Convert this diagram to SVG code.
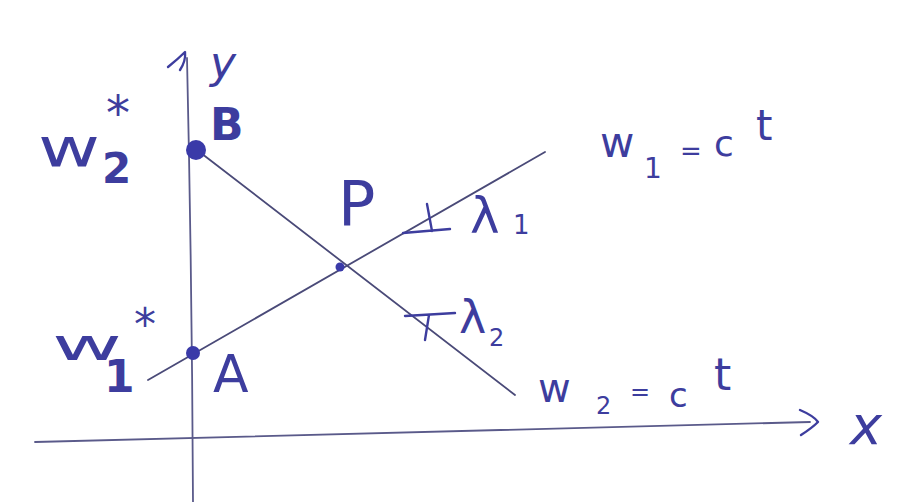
<svg xmlns="http://www.w3.org/2000/svg" width="908" height="502" viewBox="0 0 908 502">
<style>
.ink{font-family:"DejaVu Sans","Liberation Sans",sans-serif;fill:#3d3d9e}
.it{font-style:italic}
.ln{fill:none;stroke:#4a4a78;stroke-width:1.8;stroke-linecap:round}
.ax{fill:none;stroke:#5a5a8a;stroke-width:1.8;stroke-linecap:round}
.mk{fill:none;stroke:#3d3d9e;stroke-width:2.4;stroke-linecap:round;stroke-linejoin:round}
.dot{fill:#3a3aa8}
</style>
<rect width="908" height="502" fill="#ffffff"/>
<g id="axes">
  <path class="ax" d="M187 58 Q 192 280 193 502"/>
  <path class="mk" d="M168 67 Q 178 59 185 52 Q 186 61 180 70"/>
  <text class="ink it" x="210" y="78" font-size="44">y</text>
  <path class="ax" d="M35 442 L 810 422"/>
  <path class="mk" d="M800 410 Q 814 416 818 422 Q 812 428 801 435"/>
  <text class="ink it" x="850" y="444" font-size="54">x</text>
</g>
<g id="connectors">
  <path class="ln" d="M197 150 L 515 395"/>
  <path class="ln" d="M148 380 L 545 152"/>
</g>
<g id="node-B">
  <circle class="dot" cx="196" cy="150" r="10"/>
  <text class="ink" x="210" y="140" font-size="44" font-weight="bold">B</text>
  <text class="ink" x="38" y="166" font-size="54" textLength="62" lengthAdjust="spacingAndGlyphs">w</text>
  <text class="ink" x="106" y="130" font-size="48">*</text>
  <text class="ink" x="102" y="183" font-size="42" font-weight="bold">2</text>
</g>
<g id="node-A">
  <circle class="dot" cx="193" cy="353" r="7"/>
  <text class="ink" x="213" y="392" font-size="52">A</text>
  <text class="ink" x="52" y="360" font-size="44" textLength="70" lengthAdjust="spacingAndGlyphs">w</text>
  <text class="ink" x="134" y="340" font-size="44">*</text>
  <text class="ink" x="104" y="392" font-size="44" font-weight="bold">1</text>
</g>
<g id="node-P">
  <circle class="dot" cx="340" cy="267" r="4.5"/>
  <text class="ink" x="338" y="225" font-size="62">P</text>
</g>
<g id="label-lambda1">
  <path class="mk" d="M403 233 L 450 229 M427 204 L 432 231"/>
  <text class="ink" x="470" y="233" font-size="50">λ</text>
  <text class="ink" x="513" y="234" font-size="26">1</text>
</g>
<g id="label-lambda2">
  <path class="mk" d="M405 316 L 455 313 M429 315 L 425 340"/>
  <text class="ink" x="459" y="333" font-size="46">λ</text>
  <text class="ink" x="489" y="346" font-size="24">2</text>
</g>
<g id="label-w1">
  <text class="ink" x="600" y="157" font-size="42">w</text>
  <text class="ink" x="644" y="178" font-size="28">1</text>
  <text class="ink" x="680" y="160" font-size="26">=</text>
  <text class="ink" x="714" y="156" font-size="36">c</text>
  <text class="ink" x="756" y="140" font-size="42">t</text>
</g>
<g id="label-w2">
  <text class="ink" x="538" y="402" font-size="40">w</text>
  <text class="ink" x="596" y="414" font-size="24">2</text>
  <text class="ink" x="630" y="400" font-size="24">=</text>
  <text class="ink" x="669" y="407" font-size="34">c</text>
  <text class="ink" x="714" y="390" font-size="44">t</text>
</g>
</svg>
